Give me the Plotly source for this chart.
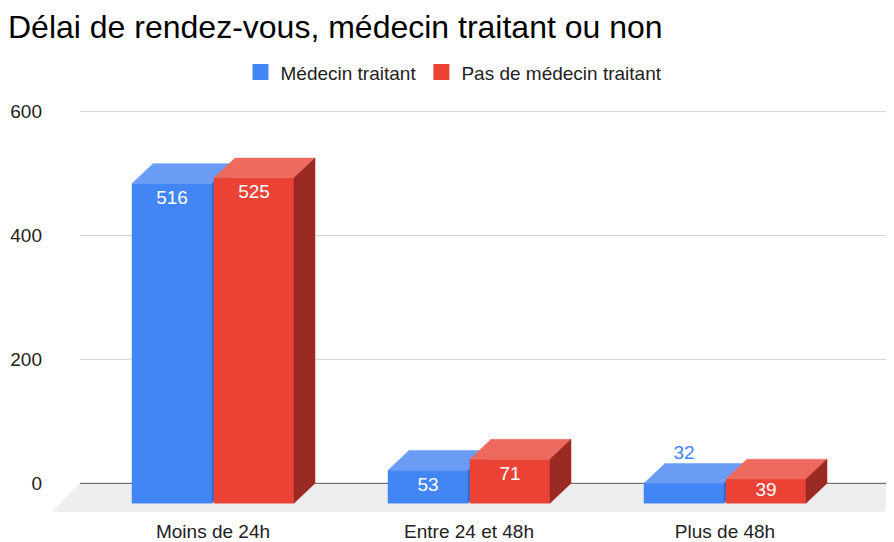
import plotly.graph_objects as go

categories = ["Moins de 24h", "Entre 24 et 48h", "Plus de 48h"]
series_names = ["Médecin traitant", "Pas de médecin traitant"]
medecin_traitant = [516, 53, 32]
pas_de_medecin = [525, 71, 39]
y_ticks = [0, 200, 400, 600]

FONT = "Liberation Sans, Arial, sans-serif"
# front / top / side colours for each series
COLORS = [("#4285F4", "#6A9CF6", "#3367D6"),
          ("#EA4335", "#EE6A5E", "#9B2A22")]

# page has an 8px body margin, so the figure is drawn 8px in
OFF = 8
SCREEN_W, SCREEN_H = 894, 542
WIDTH, HEIGHT = SCREEN_W - OFF, SCREEN_H - OFF
# plot area in screen pixels
PLOT_L, PLOT_R, PLOT_T, PLOT_B = 50, 894, 100, 522
PX_CAT = 256.0     # pixels between two categories
PX_UNIT = 0.6255   # pixels per value unit
CAT0_PX = 213      # pixel x of first category
BASE_PX = 487      # pixel y of value 0


def xd(px):
    return (px - CAT0_PX) / PX_CAT


def yd(px):
    return px / PX_UNIT


BAR_W = 80 / PX_CAT
GAP = 2 / PX_CAT
DX = 21 / PX_CAT
DY = yd(20)

x_range = [xd(PLOT_L), xd(PLOT_R)]
y_range = [-yd(PLOT_B - BASE_PX), yd(BASE_PX - PLOT_T)]

series = [medecin_traitant, pas_de_medecin]

fig = go.Figure()


def face(xs, ys, color):
    fig.add_trace(go.Scatter(
        x=xs + xs[:1], y=ys + ys[:1], mode="lines", fill="toself",
        fillcolor=color, line=dict(color=color, width=0.5),
        hoverinfo="skip", showlegend=False))


label_x = [[], []]
label_y = [[], []]
label_c = [[], []]
for i, cat in enumerate(categories):
    for s, vals in enumerate(series):
        v = vals[i]
        front, top, side = COLORS[s]
        x0 = i - GAP / 2 - BAR_W if s == 0 else i + GAP / 2
        x1 = x0 + BAR_W
        yb, yt = -DY, v - DY
        face([x0, x1, x1, x0], [yb, yb, yt, yt], front)
        face([x0, x1, x1 + DX, x0 + DX], [yt, yt, v, v], top)
        face([x1, x1 + DX, x1 + DX, x1], [yb, 0, v, yt], side)
        # data label: inside near the top, or above when the bar is too short
        label_x[s].append((x0 + x1) / 2)
        if v * PX_UNIT < 22:
            label_y[s].append(v + yd(9))
            label_c[s].append(front)
        else:
            label_y[s].append(yt - min(yd(16), v / 2))
            label_c[s].append("white")

for s in range(2):
    fig.add_trace(go.Scatter(
        x=label_x[s], y=label_y[s], mode="text",
        text=[str(v) for v in series[s]],
        textposition="middle center",
        textfont=dict(color=label_c[s], size=19, family=FONT),
        hoverinfo="skip", showlegend=False))

for s, name in enumerate(series_names):
    fig.add_trace(go.Scatter(
        x=[None], y=[None], mode="markers", name=name,
        marker=dict(symbol="square", size=16, color=COLORS[s][0])))

shapes = [dict(
    type="path", xref="x", yref="y", layer="below",
    path="M {},0 L {},0 L {},{} L {},{} Z".format(
        xd(80), xd(912), xd(883), -yd(29), xd(52), -yd(29)),
    fillcolor="#EEEEEE", line=dict(width=0))]
for t in y_ticks:
    shapes.append(dict(
        type="line", xref="x", yref="y", layer="below",
        x0=xd(80), x1=xd(SCREEN_W + 10), y0=t, y1=t,
        line=dict(color="#555555" if t == 0 else "#D6D6D6", width=1)))

fig.update_layout(
    width=WIDTH, height=HEIGHT, autosize=False,
    margin=dict(l=PLOT_L - OFF, r=SCREEN_W - PLOT_R,
                t=PLOT_T - OFF, b=SCREEN_H - PLOT_B),
    paper_bgcolor="white", plot_bgcolor="white",
    font=dict(family=FONT, size=19, color="#222222"),
    title=dict(text="Délai de rendez-vous, médecin traitant ou non",
               x=0, xref="container", xanchor="left",
               y=1 - (27 - OFF) / HEIGHT, yref="container", yanchor="middle",
               font=dict(size=32, color="#000000", family=FONT)),
    legend=dict(orientation="h",
                x=(454 - PLOT_L) / (PLOT_R - PLOT_L), xanchor="center",
                y=1 + (PLOT_T - 72) / (PLOT_B - PLOT_T), yanchor="middle",
                font=dict(size=19, color="#222222")),
    xaxis=dict(range=x_range, tickvals=list(range(len(categories))),
               ticktext=categories, showgrid=False, zeroline=False,
               showline=False, ticks="", fixedrange=True),
    yaxis=dict(range=y_range, tickvals=y_ticks, showgrid=False,
               zeroline=False, showline=False, ticks="", fixedrange=True,
               ticklabelstandoff=7),
    shapes=shapes,
    showlegend=True,
)

fig.write_html("out.html")
